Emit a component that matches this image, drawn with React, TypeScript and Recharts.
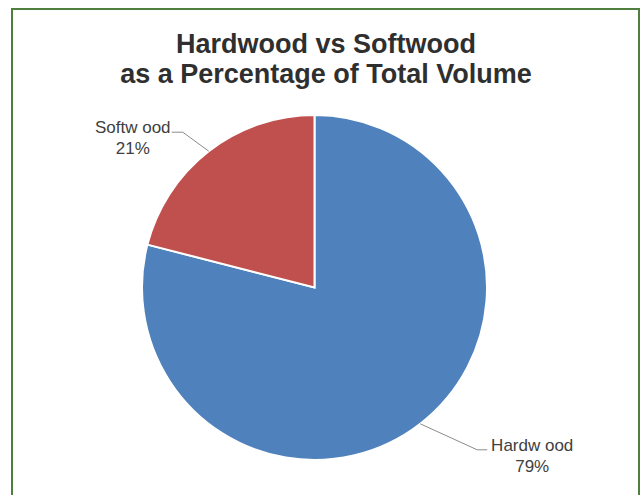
import React from "react";
import { PieChart, Pie, Cell } from "recharts";

const categories = ["Hardw ood", "Softw ood"];
const values = [79, 21];
const percentLabels = ["79%", "21%"];
const colors = ["#4F81BD", "#C0504D"];
const titleLines = ["Hardwood vs Softwood", "as a Percentage of Total Volume"];

// label layout: elbow offset from slice edge, horizontal tail, text offset from elbow
const labelLayout = [
  { ex: 57, ey: 26, tail: 10, tx: 55, ty: 1 },
  { ex: -26, ey: -19, tail: -11, tx: -50, ty: 1 },
];

const data = categories.map((name, i) => ({ name, value: values[i], pct: percentLabels[i] }));

const RAD = Math.PI / 180;

const renderLabel = (props: any) => {
  const { cx, cy, midAngle, outerRadius, index } = props;
  const lay = labelLayout[index];
  const x0 = cx + outerRadius * Math.cos(-midAngle * RAD);
  const y0 = cy + outerRadius * Math.sin(-midAngle * RAD);
  const x1 = x0 + lay.ex;
  const y1 = y0 + lay.ey;
  const x2 = x1 + lay.tail;
  const tx = x1 + lay.tx;
  const ty = y1 + lay.ty;
  return (
    <g key={`lbl-${index}`}>
      <polyline
        points={`${x0},${y0} ${x1},${y1} ${x2},${y1}`}
        fill="none"
        stroke="#8c8c8c"
        strokeWidth={1}
      />
      <text
        x={tx}
        y={ty}
        textAnchor="middle"
        fill="#404040"
        fontFamily="'Liberation Sans', Arial, sans-serif"
        fontSize={17}
      >
        <tspan x={tx} y={ty}>{data[index].name}</tspan>
        <tspan x={tx} y={ty + 21}>{data[index].pct}</tspan>
      </text>
    </g>
  );
};

export default function App() {
  return (
    <div
      style={{
        position: "absolute",
        left: 0,
        top: 0,
        width: 640,
        height: 495,
        overflow: "hidden",
        background: "#ffffff",
      }}
    >
      <div
        style={{
          position: "absolute",
          left: 11,
          top: 8,
          width: 625,
          height: 500,
          borderTop: "2px solid #4F7F3F",
          borderLeft: "2px solid #4F7F3F",
          borderRight: "2px solid #4F7F3F",
        }}
      />
      <svg
        width={640}
        height={100}
        style={{ position: "absolute", left: 0, top: 0 }}
      >
        {titleLines.map((t, i) => (
          <text
            key={i}
            x={326}
            y={53 + i * 30}
            textAnchor="middle"
            fill="#2F2F2F"
            fontFamily="'Liberation Sans', Arial, sans-serif"
            fontWeight="bold"
            fontSize={27}
          >
            {t}
          </text>
        ))}
      </svg>
      <div style={{ position: "absolute", left: 0, top: 0 }}>
        <PieChart width={640} height={495} margin={{ top: 0, right: 0, bottom: 0, left: 0 }}>
          <Pie
            data={data}
            dataKey="value"
            nameKey="name"
            cx={314.5}
            cy={287.5}
            outerRadius={172.5}
            startAngle={90}
            endAngle={-270}
            stroke="#ffffff"
            strokeWidth={2}
            label={renderLabel}
            labelLine={false}
            isAnimationActive={false}
          >
            {data.map((d, i) => (
              <Cell key={d.name} fill={colors[i]} />
            ))}
          </Pie>
        </PieChart>
      </div>
    </div>
  );
}
